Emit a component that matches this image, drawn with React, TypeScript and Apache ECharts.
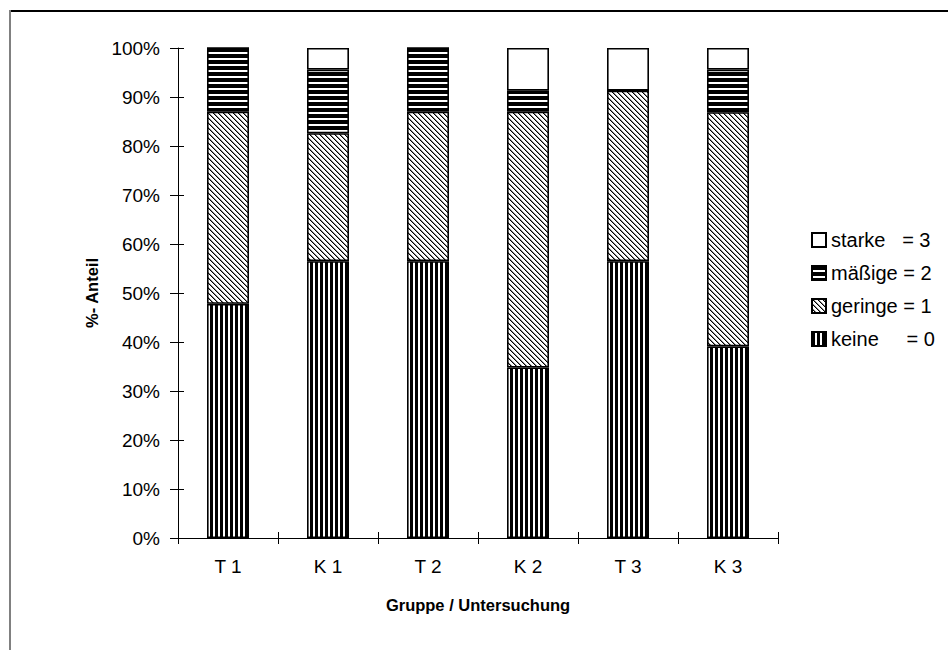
import React, { useEffect, useRef } from "react";
import * as echarts from "echarts";

const categories = ["T 1", "K 1", "T 2", "K 2", "T 3", "K 3"];
const keine = [47.8, 56.5, 56.5, 34.8, 56.5, 39.1];
const geringe = [39.2, 26.1, 30.5, 52.2, 34.8, 47.8];
const maessige = [13.0, 13.0, 13.0, 4.3, 0, 8.7];
const starke = [0, 4.4, 0, 8.7, 8.7, 4.4];
const names = ["keine     = 0", "geringe = 1", "mäßige = 2", "starke   = 3"];
const yAxisTitle = "%- Anteil";
const xAxisTitle = "Gruppe / Untersuchung";

const FONT = "Liberation Sans, Arial, sans-serif";

function makePattern(kind: string) {
  const c = document.createElement("canvas");
  let w = 5;
  let h = 5;
  if (kind === "h") { w = 6; h = 6; }
  c.width = w;
  c.height = h;
  const ctx = c.getContext("2d")!;
  ctx.fillStyle = "#fff";
  ctx.fillRect(0, 0, w, h);
  ctx.fillStyle = "#000";
  if (kind === "v") {
    ctx.fillRect(0, 0, 3, h);
  } else if (kind === "h") {
    ctx.fillRect(0, 0, w, 4);
  } else if (kind === "d") {
    for (let i = 0; i < 5; i++) {
      ctx.fillStyle = "#000";
      ctx.fillRect(i, i, 1, 1);
      ctx.fillStyle = "#8a8a8a";
      ctx.fillRect((i + 1) % 5, i, 1, 1);
    }
  }
  return { image: c.toDataURL(), repeat: "repeat", imageWidth: w, imageHeight: h };
}

export default function App() {
  const ref = useRef<HTMLDivElement>(null);
  useEffect(() => {
    if (!ref.current) return;
    const chart = echarts.init(ref.current, null, { renderer: "svg" });
    const fills = [makePattern("v"), makePattern("d"), makePattern("h"), "#fff"];
    const values = [keine, geringe, maessige, starke];
    const series = names.map((n, i) => ({
      name: n,
      type: "bar",
      stack: "a",
      barWidth: 42,
      xAxisIndex: 0,
      yAxisIndex: 0,
      data: values[i],
      itemStyle: { color: fills[i], borderColor: "#000", borderWidth: 1.6 },
    }));
    chart.setOption({
      animation: false,
      backgroundColor: "#fff",
      textStyle: { fontFamily: FONT },
      grid: { left: 178, right: 170, top: 48, bottom: 112, containLabel: false },
      legend: {
        orient: "vertical",
        left: 811,
        top: 230,
        padding: 0,
        itemWidth: 14,
        itemHeight: 14,
        itemGap: 13,
        icon: "rect",
        data: [names[3], names[2], names[1], names[0]],
        itemStyle: { borderColor: "#000", borderWidth: 2 },
        textStyle: { fontSize: 20, color: "#000", fontFamily: FONT },
      },
      xAxis: [
        {
          type: "category",
          data: categories,
          position: "bottom",
          axisLine: { lineStyle: { color: "#000", width: 1 } },
          axisTick: { show: true, length: 6, lineStyle: { color: "#000" } },
          axisLabel: { fontSize: 19, color: "#000", margin: 19, fontFamily: FONT },
          name: xAxisTitle,
          nameLocation: "middle",
          nameGap: 58,
          nameTextStyle: { fontSize: 16.5, fontWeight: "bold", color: "#000", fontFamily: FONT },
        },
        {
          type: "category",
          data: categories,
          position: "bottom",
          axisLine: { show: false },
          axisTick: { show: true, inside: true, length: 6, lineStyle: { color: "#000" } },
          axisLabel: { show: false },
        },
      ],
      yAxis: [
        {
          type: "value",
          min: 0,
          max: 100,
          interval: 10,
          axisLine: { show: true, lineStyle: { color: "#000", width: 1 } },
          axisTick: { show: true, length: 8, lineStyle: { color: "#000" } },
          splitLine: { show: false },
          axisLabel: { fontSize: 19, color: "#000", margin: 18, formatter: "{value}%", fontFamily: FONT },
          name: yAxisTitle,
          nameLocation: "middle",
          nameGap: 72,
          nameRotate: 90,
          nameTextStyle: { fontSize: 16.5, fontWeight: "bold", color: "#000", fontFamily: FONT },
        },
        {
          type: "value",
          min: 0,
          max: 100,
          interval: 10,
          position: "left",
          axisLine: { show: false },
          axisTick: { show: true, inside: true, length: 6, lineStyle: { color: "#000" } },
          splitLine: { show: false },
          axisLabel: { show: false },
        },
      ],
      graphic: [
        { type: "line", shape: { x1: 9, y1: 11, x2: 948, y2: 11 }, style: { stroke: "#000", lineWidth: 2 } },
        { type: "line", shape: { x1: 10, y1: 10, x2: 10, y2: 650 }, style: { stroke: "#808080", lineWidth: 2 } },
      ],
      series,
    });
    return () => chart.dispose();
  }, []);
  return <div ref={ref} style={{ width: 948, height: 650, position: "absolute", left: 0, top: 0 }} />;
}
